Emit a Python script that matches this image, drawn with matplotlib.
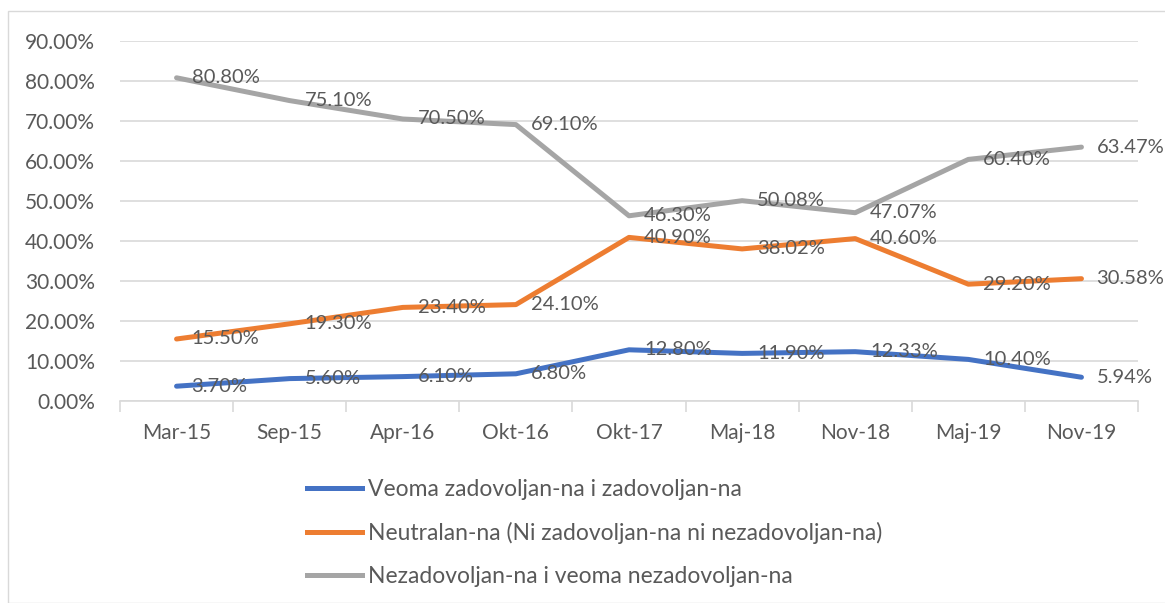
import matplotlib
matplotlib.use("Agg")
import matplotlib.pyplot as plt
from matplotlib.lines import Line2D
from matplotlib.patches import Rectangle
from matplotlib.ticker import FuncFormatter, FixedLocator

categories = ["Mar-15", "Sep-15", "Apr-16", "Okt-16", "Okt-17", "Maj-18", "Nov-18", "Maj-19", "Nov-19"]
satisfied = [3.70, 5.60, 6.10, 6.80, 12.80, 11.90, 12.33, 10.40, 5.94]
neutral = [15.50, 19.30, 23.40, 24.10, 40.90, 38.02, 40.60, 29.20, 30.58]
dissatisfied = [80.80, 75.10, 70.50, 69.10, 46.30, 50.08, 47.07, 60.40, 63.47]
series_names = [
    "Veoma zadovoljan-na i zadovoljan-na",
    "Neutralan-na (Ni zadovoljan-na ni nezadovoljan-na)",
    "Nezadovoljan-na i veoma nezadovoljan-na",
]
colors = ["#4472C4", "#ED7D31", "#A5A5A5"]

plt.rcParams['font.family'] = ['Lato', 'DejaVu Sans']
TXT = "#595959"
GRID = "#D9D9D9"
FS_TICK = 15
FS_LBL = 14.5
FS_LEG = 16.5

W, H = 1165, 603
fig = plt.figure(figsize=(W / 100, H / 100), dpi=100)
fig.patches.append(Rectangle((8 / W, 0), 1.5, 1 - 11 / H, transform=fig.transFigure,
                             fill=False, edgecolor=GRID, linewidth=1.0))

ax = fig.add_axes([120 / W, 1 - 401 / H, (1138 - 120) / W, (401 - 41) / H])
x = list(range(len(categories)))
series = [satisfied, neutral, dissatisfied]
for vals, name, c in zip(series, series_names, colors):
    ax.plot(x, vals, color=c, linewidth=3.6, solid_capstyle='round', solid_joinstyle='round', label=name, zorder=3)
    for xi, v in zip(x, vals):
        ax.annotate(f"{v:.2f}%", (xi, v), xytext=(15, 0), textcoords='offset pixels',
                    ha='left', va='center', fontsize=FS_LBL, color=TXT, zorder=4)

ax.set_xlim(-0.5, len(categories) - 0.5)
ax.set_ylim(0, 90)
ax.set_yticks(range(0, 91, 10))
ax.yaxis.set_major_formatter(FuncFormatter(lambda v, p: f"{v:.2f}%"))
ax.grid(axis='y', color=GRID, linewidth=1.2, zorder=0)
ax.set_axisbelow(True)
for s in ['top', 'right', 'left']:
    ax.spines[s].set_visible(False)
ax.spines['bottom'].set_color(GRID)
ax.spines['bottom'].set_linewidth(1.2)

ax.xaxis.set_major_locator(FixedLocator([i - 0.5 for i in range(len(categories) + 1)]))
ax.xaxis.set_minor_locator(FixedLocator(x))
ax.set_xticklabels([""] * (len(categories) + 1))
ax.set_xticklabels(categories, minor=True)
ax.tick_params(axis='x', which='major', length=8, width=1.2, color=GRID)
ax.tick_params(axis='x', which='minor', length=0, pad=16, labelsize=FS_TICK, labelcolor=TXT)
ax.tick_params(axis='y', length=0, pad=18, labelsize=FS_TICK, labelcolor=TXT)

handles = [Line2D([0], [0], color=c, linewidth=3.6) for c in colors]
fig.legend(handles, series_names, loc='upper left', bbox_to_anchor=(296 / W, 1 - 468 / H),
           frameon=False, fontsize=FS_LEG, labelcolor=TXT, handlelength=2.4,
           handletextpad=0.22, labelspacing=0.95, borderpad=0)

fig.savefig("out.png", dpi=100)
